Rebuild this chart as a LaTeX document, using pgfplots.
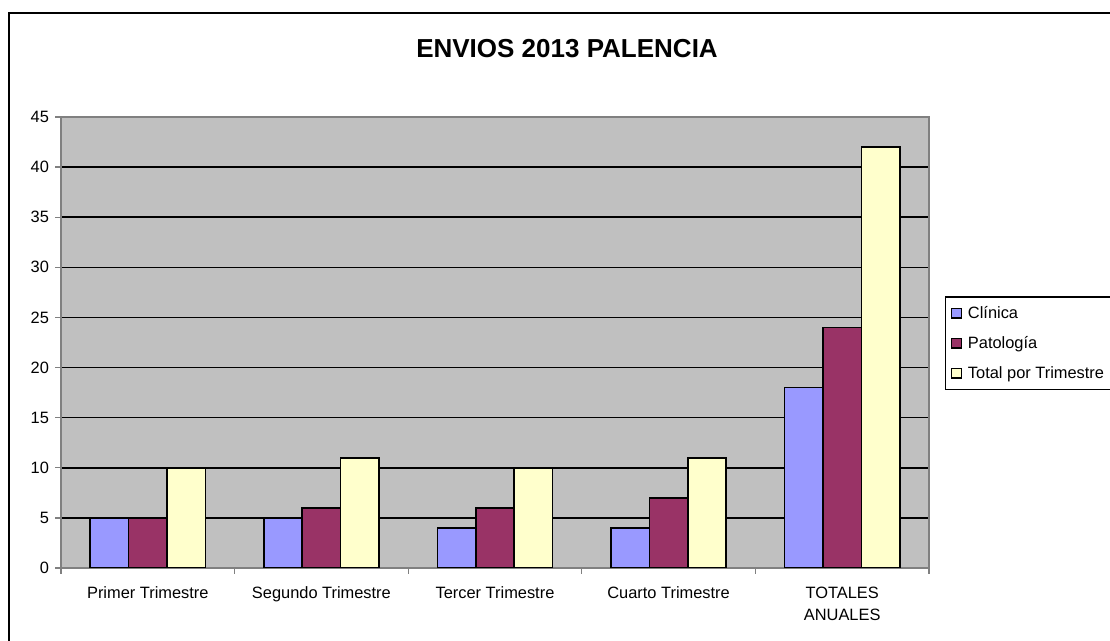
\documentclass[border=0pt]{standalone}
\usepackage{pgfplots}
\pgfplotsset{compat=1.18}
\usepackage{fontspec}
\setmainfont{Liberation Sans}
\definecolor{clin}{HTML}{9999FF}
\definecolor{pato}{HTML}{993366}
\definecolor{tot}{HTML}{FFFFCC}
\definecolor{plotbg}{HTML}{C0C0C0}
\definecolor{axgray}{HTML}{808080}
\begin{document}
\begin{tikzpicture}[x=0.75pt,y=0.75pt]
\useasboundingbox (0,0) rectangle (1110,641);
\draw[line width=1.5pt] (8.5,628) rectangle (1130,-30);
\node[font=\fontsize{19.5}{22}\selectfont\bfseries] at (567,592) {ENVIOS 2013 PALENCIA};
\begin{axis}[
  at={(45.75pt,54.75pt)}, anchor=south west,
  scale only axis,
  width=651pt, height=338.25pt,
  xmin=-0.5, xmax=4.5, ymin=0, ymax=45,
  axis background/.style={fill=plotbg},
  axis line style={axgray, line width=1.2pt},
  ytick={0,5,...,45},
  ymajorgrids, grid style={black, line width=1.1pt},
  xtick={-0.5,0.5,...,4.5},
  xticklabels={},
  extra x ticks={0,1,2,3,4},
  extra x tick labels={Primer Trimestre,Segundo Trimestre,Tercer Trimestre,Cuarto Trimestre,{TOTALES\\ANUALES}},
  extra x tick style={major tick length=0pt, tick style={draw=none},
     tick label style={align=center, yshift=-10.75pt}},
  tick align=outside,
  major tick length=4.5pt,
  tick style={axgray, line width=1pt},
  xtick pos=bottom, ytick pos=left,
  /pgf/number format/assume math mode=true,
  tick label style={font=\fontsize{12.3}{16.5}\selectfont},
  yticklabel style={xshift=-1pt},
  ybar=0pt, bar width=28.8pt,
  legend style={at={(1.0184,0.603)}, anchor=north west, draw=black, line width=1.1pt,
    font=\fontsize{12.3}{14}\selectfont, fill=white, row sep=8pt, inner xsep=4pt, inner ysep=5pt,
    nodes={inner xsep=4.5pt}},
  legend cell align=left,
  legend image code/.code={\draw[#1, line width=1pt] (0pt,-3.6pt) rectangle (7.2pt,3.6pt);},
]
\addplot[fill=clin, draw=black, line width=1.2pt, bar shift=-28.8pt] coordinates {(0,5) (1,5) (2,4) (3,4) (4,18)};
\addplot[fill=pato, draw=black, line width=1.2pt, bar shift=0pt] coordinates {(0,5) (1,6) (2,6) (3,7) (4,24)};
\addplot[fill=tot, draw=black, line width=1.2pt, bar shift=28.8pt] coordinates {(0,10) (1,11) (2,10) (3,11) (4,42)};
\legend{Clínica,Patología,Total por Trimestre}
\end{axis}
\end{tikzpicture}
\end{document}
